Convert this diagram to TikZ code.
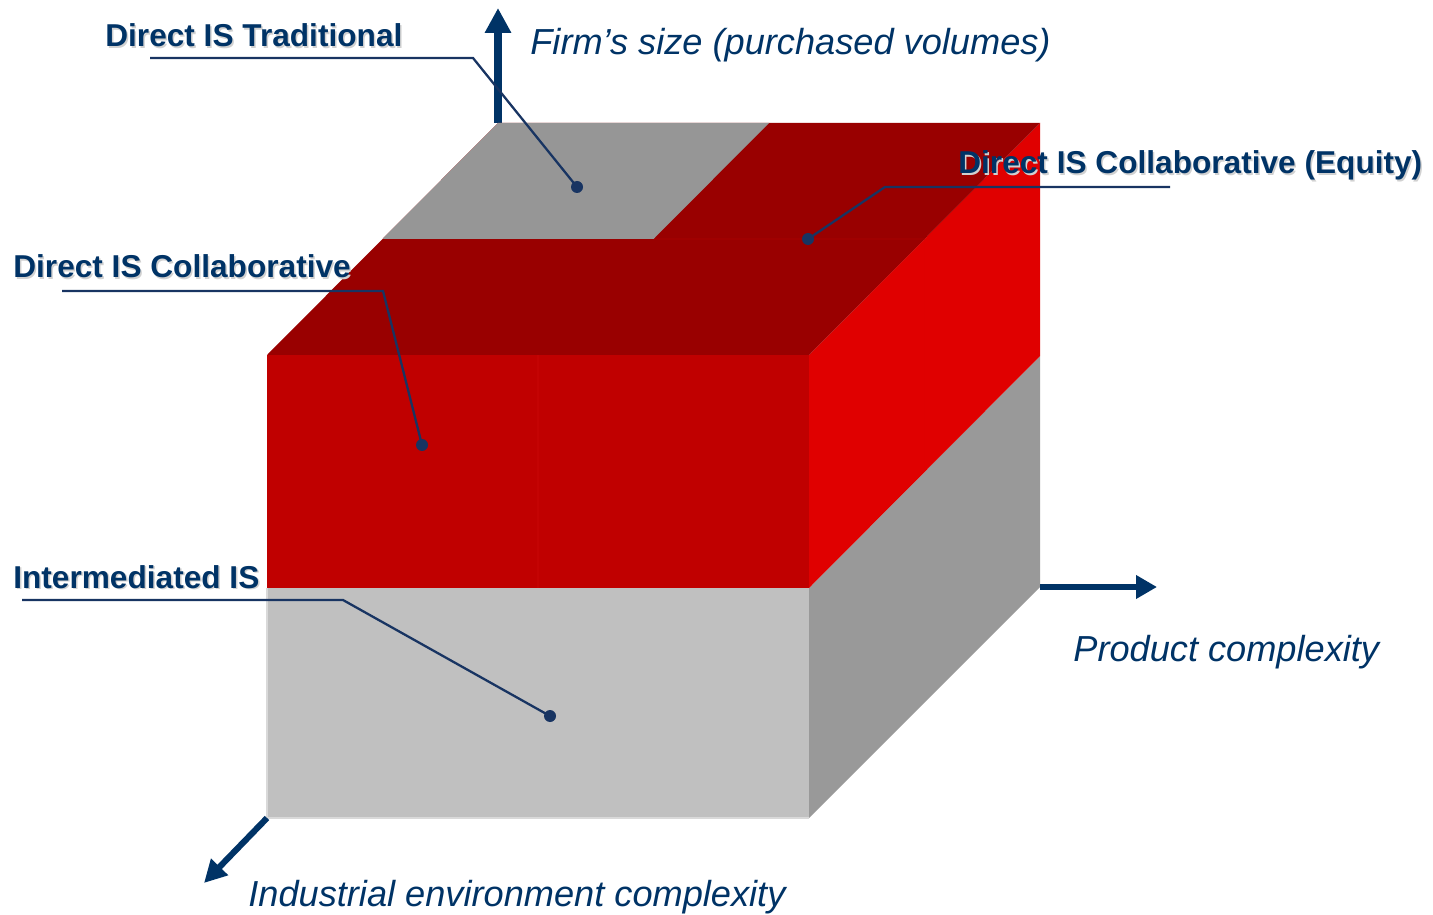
\documentclass[tikz,border=0pt]{standalone}
\usepackage{fontspec}
\setmainfont{Liberation Sans}
\usetikzlibrary{arrows.meta}
\definecolor{navy}{RGB}{0,51,102}
\definecolor{leader}{RGB}{24,52,98}
\definecolor{frontred}{RGB}{192,0,0}
\definecolor{topred}{RGB}{153,0,0}
\definecolor{sidered}{RGB}{224,0,0}
\definecolor{topgrey}{RGB}{150,150,150}
\definecolor{frontgrey}{RGB}{192,192,192}
\definecolor{sidegrey}{RGB}{153,153,153}
\tikzset{
  lbl/.style={anchor=base west, inner sep=0pt, font=\fontsize{18}{20}\selectfont\bfseries, text=navy},
  lblshadow/.style={anchor=base west, inner sep=0pt, font=\fontsize{18}{20}\selectfont\bfseries, text=black!18},
  axlbl/.style={anchor=base west, inner sep=0pt, font=\fontsize{20.6}{24}\selectfont\itshape, text=navy},
  axis/.style={draw=navy, line width=4pt, -{Triangle[length=0.5cm, width=0.5cm]}},
  leaderline/.style={draw=leader, line width=1.3pt},
  dotmark/.style={circle, fill=leader, inner sep=0pt, minimum size=0.24cm},
}
\begin{document}
\begin{tikzpicture}[x=0.02cm, y=-0.02cm]
\useasboundingbox (0,0) rectangle (1433,915);
% corners
\coordinate (A) at (267,355);
\coordinate (B) at (809,355);
\coordinate (C) at (809,588);
\coordinate (D) at (267,588);
\coordinate (E) at (267,818);
\coordinate (F) at (809,818);
\coordinate (G) at (498,123);
\coordinate (H) at (1040,123);
\coordinate (I) at (1040,356);
\coordinate (J) at (1040,587);
\coordinate (Gm) at (769,123);
\coordinate (Mc) at (653.5,239);
\coordinate (Ml) at (382.5,239);
\coordinate (Mr) at (924.5,239);
\coordinate (Fm) at (538,355);
% axis arrow (vertical) behind the box
\coordinate (Vtop) at (498,8);
\draw[axis] (G) -- (Vtop);
% faces
\fill[frontgrey] (D) -- (C) -- (F) -- (E) -- cycle;
\draw[black!15, line width=0.6pt] (D) -- (E) -- (F);
\fill[sidegrey] (C) -- (I) -- (J) -- (F) -- cycle;
\fill[frontred] (A) -- (B) -- (C) -- (D) -- cycle;
\fill[sidered] (B) -- (H) -- (I) -- (C) -- cycle;
\fill[topred] (A) -- (B) -- (H) -- (G) -- cycle;
\fill[topgrey] (G) -- (Gm) -- (Mc) -- (Ml) -- cycle;
% subtle seams
\coordinate (FmB) at (538,588);
\coordinate (Mrb) at (924.5,472);
\draw[red!80!black!95, line width=0.8pt, opacity=0.3] (Fm) -- (FmB);
\draw[red!85!black, line width=0.6pt, opacity=0.12] (Mr) -- (Mrb);
\draw[red!70!black, line width=0.6pt, opacity=0.3] (Mc) -- (Mr);
% other axes
\coordinate (Rend) at (1157,587);
\draw[axis, line width=3.5pt, -{Triangle[length=0.42cm, width=0.45cm]}] (J) -- (Rend);
\coordinate (Lend) at (204,883);
\draw[axis, line width=3.5pt, -{Triangle[length=0.45cm, width=0.45cm]}] (E) -- (Lend);
% axis labels
\node[axlbl] (ly) at (530,55) {Firm’s size (purchased volumes)};
\node[axlbl] (lx) at (1073,661) {Product complexity};
\node[axlbl] (lz) at (248,906) {Industrial environment complexity};
% region labels with shadow
\node[lblshadow] (s1) at (106.5,48.5) {Direct IS Traditional};
\node[lbl] (t1) at (105,47) {Direct IS Traditional};
\node[lblshadow] (s2) at (959.5,175.5) {Direct IS Collaborative (Equity)};
\node[lbl] (t2) at (958,174) {Direct IS Collaborative (Equity)};
\node[lblshadow] (s3) at (14.5,279.5) {Direct IS Collaborative};
\node[lbl] (t3) at (13,278) {Direct IS Collaborative};
\node[lblshadow] (s4) at (14.5,589.5) {Intermediated IS};
\node[lbl] (t4) at (13,588) {Intermediated IS};
% leaders
\node[dotmark] (d1) at (577,187) {};
\node[dotmark] (d2) at (808,239) {};
\node[dotmark] (d3) at (422,445) {};
\node[dotmark] (d4) at (550,716) {};
\coordinate (u1a) at (150,58);  \coordinate (u1b) at (473,58);
\coordinate (u2a) at (1170,187); \coordinate (u2b) at (885,187);
\coordinate (u3a) at (62,291);  \coordinate (u3b) at (383,291);
\coordinate (u4a) at (22,600);  \coordinate (u4b) at (343,600);
\draw[leaderline] (u1a) -- (u1b) -- (d1.center);
\draw[leaderline] (u2a) -- (u2b) -- (d2.center);
\draw[leaderline] (u3a) -- (u3b) -- (d3.center);
\draw[leaderline] (u4a) -- (u4b) -- (d4.center);
\end{tikzpicture}
\end{document}
